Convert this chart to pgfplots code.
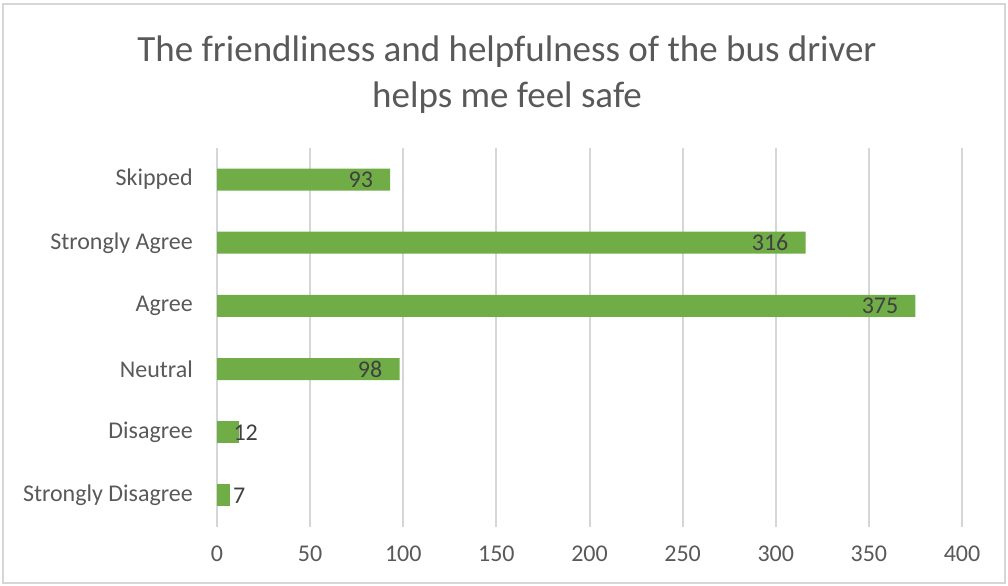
\documentclass[border=0pt]{standalone}
\usepackage{pgfplots}
\pgfplotsset{compat=1.18}
\usepackage{fontspec}
\setmainfont{Carlito}
\definecolor{barg}{HTML}{70AD47}
\definecolor{gridc}{HTML}{D6D6D6}
\definecolor{txt}{HTML}{595959}
\definecolor{dlab}{HTML}{404040}
\begin{document}
\begin{tikzpicture}
\useasboundingbox (0,0) rectangle (1008bp,586bp);
\draw[gridc, line width=2bp] (3bp,3bp) rectangle (1005bp,582bp);
\node[txt, anchor=base, font=\fontsize{37bp}{44bp}\selectfont, inner sep=0] at (507bp,524bp) {The friendliness and helpfulness of the bus driver};
\node[txt, anchor=base, font=\fontsize{37bp}{44bp}\selectfont, inner sep=0] at (507bp,478bp) {helps me feel safe};
\begin{axis}[
  at={(217bp,59bp)}, anchor=south west,
  scale only axis, width=745bp, height=379bp,
  xbar, bar width=22bp, bar shift=0pt,
  xmin=0, xmax=400, ymin=-0.5, ymax=5.5,
  xtick={0,50,...,400},
  ytick={0,1,2,3,4,5},
  yticklabels={Strongly Disagree,Disagree,Neutral,Agree,Strongly Agree,Skipped},
  axis line style={draw=none},
  major tick length=0pt,
  xmajorgrids, grid style={gridc, line width=2bp},
  ymajorgrids=false,
  ticklabel style={font=\fontsize{24bp}{28bp}\selectfont, text=txt, inner sep=0pt},
  yticklabel style={xshift=-24bp},
  xticklabel style={yshift=-19bp},
  /pgf/number format/assume math mode=true,
  clip=false,
]
\addplot[fill=barg, draw=none,
  nodes near coords,
  nodes near coords style={anchor=east, xshift=-17bp, inner sep=0pt, text=dlab, font=\fontsize{24bp}{28bp}\selectfont},
] coordinates {(98,2) (375,3) (316,4) (93,5)};
\addplot[fill=barg, draw=none,
  nodes near coords,
  nodes near coords style={anchor=west, xshift=-6bp, inner sep=0pt, text=dlab, font=\fontsize{24bp}{28bp}\selectfont},
] coordinates {(12,1)};
\addplot[fill=barg, draw=none,
  nodes near coords,
  nodes near coords style={anchor=west, xshift=3bp, inner sep=0pt, text=dlab, font=\fontsize{24bp}{28bp}\selectfont},
] coordinates {(7,0)};
\end{axis}
\end{tikzpicture}
\end{document}
